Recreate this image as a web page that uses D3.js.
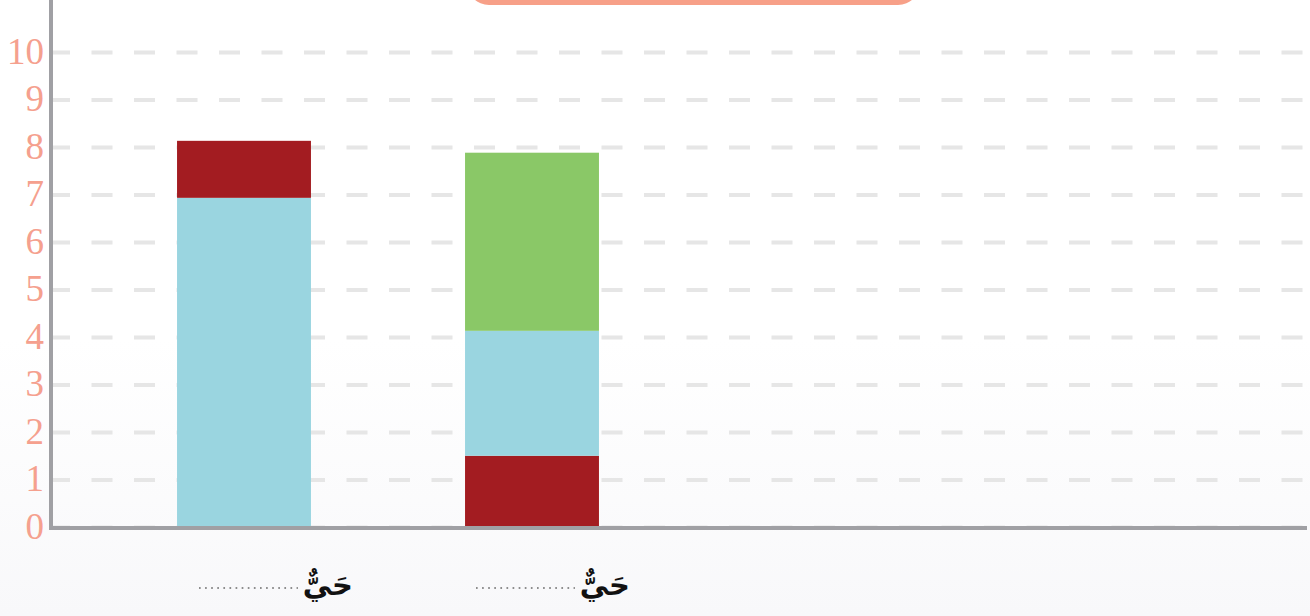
<!DOCTYPE html>
<html>
<head>
<meta charset="utf-8">
<script src="https://cdn.jsdelivr.net/npm/d3@7"></script>
<style>
  html, body { margin: 0; padding: 0; background: #fff; }
  svg { display: block; }
</style>
</head>
<body>
<div id="chart"></div>
<script>
// slots on the x axis (only the first two carry bars)
const categories = ["c1", "c2", "c3", "c4"]
const labels = ["حَيٌّ", "حَيٌّ", "", ""]
const yTicks = [0, 1, 2, 3, 4, 5, 6, 7, 8, 9, 10]

// segment values per series, one entry per category
const red = [1.2, 1.5, 0, 0]
const blue = [6.93, 2.63, 0, 0]
const green = [0, 3.75, 0, 0]
// stacking order (bottom to top) for each category
const stackOrder = [["blue", "red"], ["red", "blue", "green"], [], []]

const colors = { red: "#a31c21", blue: "#9ad5e0", green: "#8ac867" }
const values = { red: red, blue: blue, green: green }

width = 1310
height = 616
margin = ({ top: 52, right: 3, bottom: 89, left: 49 })

x = d3.scaleBand()
   .domain(categories)
   .range([100, 1252])
   .paddingInner(0.535)
   .paddingOuter(0.2675)

y = d3.scaleLinear()
   .domain([0, 10])
   .range([height - margin.bottom, margin.top])

const svg = d3.select("#chart").append("svg")
   .attr("width", width)
   .attr("height", height)

// faint background shading at the bottom
const defs = svg.append("defs")
const grad = defs.append("linearGradient")
   .attr("id", "bg").attr("x1", 0).attr("y1", 0).attr("x2", 0).attr("y2", 1)
grad.append("stop").attr("offset", "0.55").attr("stop-color", "#ffffff")
grad.append("stop").attr("offset", "1").attr("stop-color", "#f8f8fa")
svg.append("rect").attr("width", width).attr("height", height).attr("fill", "url(#bg)")

// cropped title box at the top
svg.append("rect")
   .attr("x", 467).attr("y", -40)
   .attr("width", 453).attr("height", 45)
   .attr("rx", 22)
   .attr("fill", "#f7a088")

// grid + tick labels
yAxis = g => g
   .attr("transform", `translate(${margin.left},0)`)
   .call(d3.axisLeft(y).tickValues(yTicks).tickSize(-(width - margin.right - margin.left)).tickPadding(5))
   .call(g => g.select(".domain").remove())
   .call(g => g.selectAll(".tick line")
      .attr("stroke", "#e6e6e6")
      .attr("stroke-width", 4)
      .attr("stroke-dasharray", "21,21.5"))
   .call(g => g.selectAll(".tick text")
      .attr("fill", "#f5a08e")
      .attr("font-family", "'Liberation Serif', 'DejaVu Serif', serif")
      .attr("font-size", 37)
      .attr("dy", "0.3em"))

svg.append("g").call(yAxis)

// stacked bars
const segs = []
categories.forEach((c, i) => {
   let base = 0
   stackOrder[i].forEach(k => {
      const v = values[k][i]
      segs.push({ cat: c, key: k, y0: base, y1: base + v })
      base += v
   })
})

svg.append("g")
   .selectAll("rect")
   .data(segs)
   .join("rect")
   .attr("x", d => x(d.cat))
   .attr("y", d => y(d.y1))
   .attr("width", x.bandwidth())
   .attr("height", d => y(d.y0) - y(d.y1))
   .attr("fill", d => colors[d.key])

// axis lines
svg.append("line")
   .attr("x1", 51).attr("x2", 51)
   .attr("y1", 0).attr("y2", y(0) + 3)
   .attr("stroke", "#a0a0a4").attr("stroke-width", 4)
svg.append("line")
   .attr("x1", 49).attr("x2", width - margin.right)
   .attr("y1", y(0) + 1).attr("y2", y(0) + 1)
   .attr("stroke", "#a0a0a4").attr("stroke-width", 4)

// category labels with dotted blank to the left
const lab = svg.append("g")
   .selectAll("g")
   .data(categories.filter((c, i) => labels[i]))
   .join("g")
   .attr("transform", (d, i) => `translate(${x(d) + x.bandwidth() + (i === 0 ? 42 : 31)},0)`)

lab.append("text")
   .attr("x", 0)
   .attr("y", 595)
   .attr("text-anchor", "end")
   .attr("font-family", "'DejaVu Sans', sans-serif")
   .attr("font-weight", "bold")
   .attr("font-size", 29)
   .attr("fill", "#111")
   .text(d => labels[categories.indexOf(d)])

lab.append("line")
   .attr("x1", -154).attr("x2", -55)
   .attr("y1", 588).attr("y2", 588)
   .attr("stroke", "#6a6a6a")
   .attr("stroke-width", 1.7)
   .attr("stroke-dasharray", "1.7,4.4")
</script>
</body>
</html>
